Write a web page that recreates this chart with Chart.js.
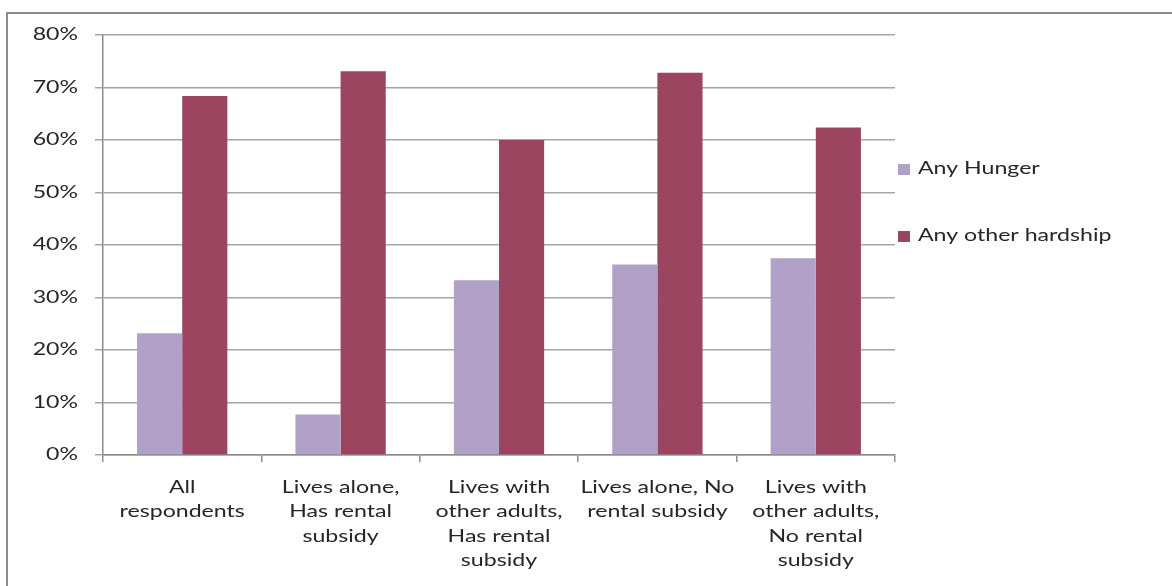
<!DOCTYPE html>
<html>
<head>
<meta charset="utf-8">
<script src="https://cdn.jsdelivr.net/npm/chart.js@4.4.1/dist/chart.umd.min.js"></script>
<style>
  html, body { margin: 0; padding: 0; background: #ffffff; }
  #wrap { position: relative; width: 1172px; height: 586px; overflow: hidden; }
  #frame { position: absolute; left: 6px; top: 12px; width: 1300px; height: 700px; border: 2px solid #8c8c8c; box-sizing: border-box; }
  #c { position: absolute; left: 0; top: 0; }
</style>
</head>
<body>
<div id="wrap">
  <div id="frame"></div>
  <canvas id="c" width="1172" height="586"></canvas>
</div>
<script>
const categories = [
  ["All", "respondents"],
  ["Lives alone,", "Has rental", "subsidy"],
  ["Lives with", "other adults,", "Has rental", "subsidy"],
  ["Lives alone, No", "rental subsidy"],
  ["Lives with", "other adults,", "No rental", "subsidy"]
];
const seriesNames = ["Any Hunger", "Any other hardship"];
const anyHunger = [23.2, 7.7, 33.3, 36.3, 37.5];
const anyOtherHardship = [68.4, 73.1, 60.0, 72.8, 62.4];
const yTicks = [0, 10, 20, 30, 40, 50, 60, 70, 80];

const FONT = "Lato";
const TEXT = "#262626";
const TEXT_STRETCH = 1.36;

const canvas = document.getElementById("c");
const context = canvas.getContext("2d");
const origFillText = context.fillText;
context.fillText = function (t, x, y, mw) {
  this.save();
  this.translate(x, y);
  this.scale(TEXT_STRETCH, 1);
  origFillText.call(this, t, 0, 0);
  this.restore();
};

const legendPlugin = {
  id: "sideLegend",
  afterDraw(chart) {
    const ctx = chart.ctx;
    const ys = [169, 236];
    ctx.save();
    chart.data.datasets.forEach((ds, i) => {
      ctx.fillStyle = ds.backgroundColor;
      ctx.fillRect(898, ys[i] - 5, 12, 11);
      ctx.fillStyle = TEXT;
      ctx.font = "17px " + FONT;
      ctx.textBaseline = "middle";
      ctx.textAlign = "left";
      ctx.fillText(ds.label, 918, ys[i]);
    });
    ctx.restore();
  }
};

new Chart(canvas, {
  type: "bar",
  data: {
    labels: categories,
    datasets: [
      { label: seriesNames[0], data: anyHunger, backgroundColor: "#B1A0C7", borderWidth: 0 },
      { label: seriesNames[1], data: anyOtherHardship, backgroundColor: "#9B4560", borderWidth: 0 }
    ]
  },
  options: {
    responsive: false,
    animation: false,
    devicePixelRatio: 1,
    layout: { padding: { left: 0, top: 35, right: 277, bottom: 0 } },
    datasets: { bar: { categoryPercentage: 0.57, barPercentage: 1.0 } },
    plugins: { legend: { display: false }, tooltip: { enabled: false } },
    scales: {
      x: {
        afterFit(scale) { scale.height = 131; },
        grid: { offset: true, drawOnChartArea: false, drawTicks: true, tickLength: 7, color: "#8c8c8c", lineWidth: 1.5 },
        border: { display: true, color: "#8c8c8c", width: 1.5 },
        ticks: { color: TEXT, font: { family: FONT, size: 17, lineHeight: 1.44 }, padding: 13, maxRotation: 0, autoSkip: false }
      },
      y: {
        min: 0, max: 80,
        afterFit(scale) { scale.width = 103; },
        afterBuildTicks(scale) { scale.ticks = yTicks.map(v => ({ value: v })); },
        grid: { color: "#a6a6a6", lineWidth: 1.5, tickLength: 8 },
        border: { display: true, color: "#8c8c8c", width: 1.5 },
        ticks: { color: TEXT, font: { family: FONT, size: 17 }, padding: 17, callback: v => v + "%" }
      }
    }
  },
  plugins: [legendPlugin]
});
</script>
</body>
</html>
